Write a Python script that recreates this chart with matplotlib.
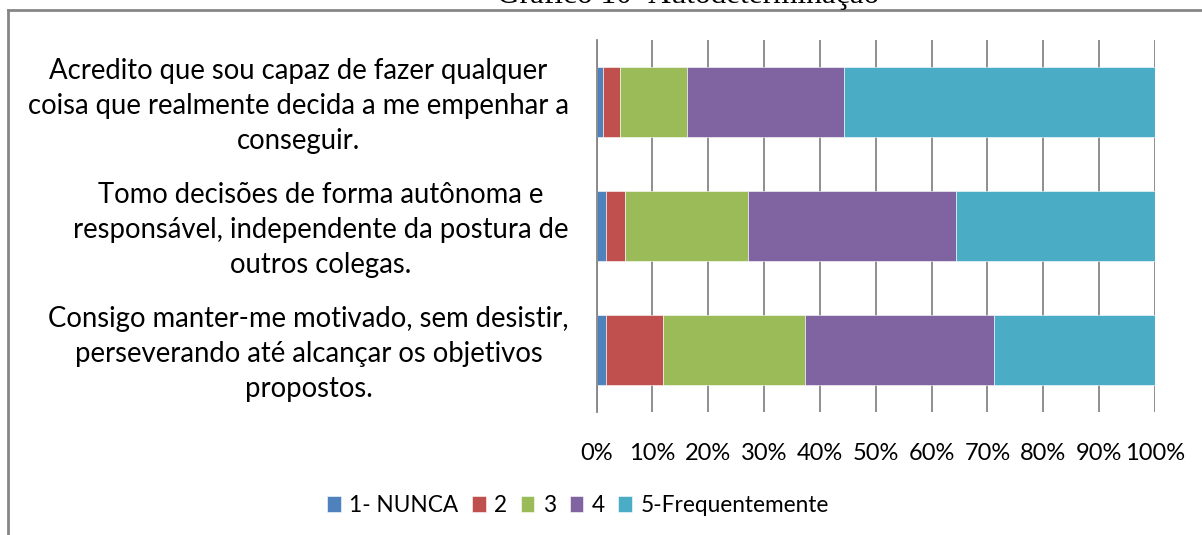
import matplotlib

matplotlib.use("Agg")
import matplotlib.pyplot as plt
import matplotlib.transforms as mtransforms
from matplotlib.lines import Line2D

plt.rcParams["font.family"] = ["Lato", "DejaVu Sans"]

# data (percent of answers)
questions = [
    "Acredito que sou capaz de fazer qualquer\ncoisa que realmente decida a me empenhar a\nconseguir.",
    "Tomo decisões de forma autônoma e\nresponsável, independente da postura de\noutros colegas.",
    "Consigo manter-me motivado, sem desistir,\nperseverando até alcançar os objetivos\npropostos.",
]
levels = ["1- NUNCA", "2", "3", "4", "5-Frequentemente"]
nunca = [1.2, 1.7, 1.7]
dois = [3.0, 3.4, 10.2]
tres = [12.0, 22.0, 25.4]
quatro = [28.1, 37.3, 33.9]
freq = [55.7, 35.6, 28.8]
series = [nunca, dois, tres, quatro, freq]
colors = ["#4F81BD", "#C0504D", "#9BBB59", "#8064A2", "#4BACC6"]
ticks = [0, 10, 20, 30, 40, 50, 60, 70, 80, 90, 100]

W, H = 1202, 535
fig = plt.figure(figsize=(W / 100, H / 100), dpi=100)
ax = fig.add_axes([596.5 / W, 1 - 412 / H, (1155 - 596.5) / W, 372 / H])

GRID = "#868686"
ypos = list(range(len(questions)))
left = [0.0] * len(questions)
for vals, lab, col in zip(series, levels, colors):
    ax.barh(ypos, vals, left=left, height=0.57, color=col, label=lab,
            edgecolor="white", linewidth=0.4, zorder=3)
    left = [a + b for a, b in zip(left, vals)]

ax.set_xlim(0, 100)
ax.set_ylim(-0.5, 2.5)
ax.invert_yaxis()
ax.set_xticks(ticks)
ax.set_xticklabels([f"{t}%" for t in ticks], fontsize=17)
ax.set_yticks(ypos)
ax.set_yticklabels(questions, fontsize=19.8, multialignment="center",
                   linespacing=1.45, va="center")
ax.tick_params(axis="x", length=0, pad=22)
ax.tick_params(axis="y", length=0, pad=20)
# nudge the question blocks down a little
shift = mtransforms.ScaledTranslation(0, -4 / 100, fig.dpi_scale_trans)
for lbl in ax.get_yticklabels():
    lbl.set_transform(lbl.get_transform() + shift)
ax.grid(axis="x", color=GRID, linewidth=1.3, zorder=0)
for s in ["top", "right", "bottom"]:
    ax.spines[s].set_visible(False)
ax.spines["left"].set_color(GRID)
ax.spines["left"].set_linewidth(1.3)
ax.spines["left"].set_zorder(4)

fig.legend(loc="center", bbox_to_anchor=(578 / W, 1 - 505 / H), ncol=5,
           frameon=False, fontsize=16.3, handlelength=0.6, handleheight=0.7,
           handletextpad=0.37, columnspacing=0.6)

# chart frame (cropped at right and bottom)
fig.add_artist(Line2D([8 / W, 1], [1 - 9.5 / H] * 2, transform=fig.transFigure,
                      color=GRID, linewidth=2))
fig.add_artist(Line2D([8 / W, 8 / W], [0, 1 - 9.5 / H], transform=fig.transFigure,
                      color=GRID, linewidth=2))

# title, mostly cut off by the top edge
fig.text(688 / W, 1 - 2.5 / H, "Gráfico 10- Autodeterminação", ha="center",
         va="baseline", fontsize=22.5, family="Liberation Serif")

fig.savefig("out.png", dpi=100, facecolor="white")
